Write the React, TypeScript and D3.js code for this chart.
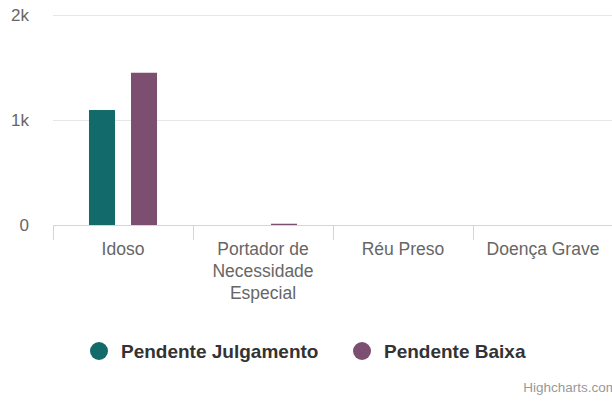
import React, { useEffect, useRef } from 'react';
import * as d3 from 'd3';

const categories = ['Idoso', 'Portador de Necessidade Especial', 'Réu Preso', 'Doença Grave'];
const categoryLines = [['Idoso'], ['Portador de', 'Necessidade', 'Especial'], ['Réu Preso'], ['Doença Grave']];
const seriesNames = ['Pendente Julgamento', 'Pendente Baixa'];
const seriesColors = ['#126b6a', '#7c4f71'];
const pendenteJulgamento = [1095, 0, 0, 0];
const pendenteBaixa = [1450, 12, 0, 0];
const yTicks = [0, 1000, 2000];
const yTickLabels = ['0', '1k', '2k'];

const App = () => {
    const svgRef = useRef<SVGSVGElement>(null);

    useEffect(() => {
        const width = 612;
        const height = 401;
        const left = 53, right = 613, top = 15, bottom = 225;
        const font = '"Liberation Sans", Arial, sans-serif';

        const svg = d3.select(svgRef.current)
            .attr('width', width)
            .attr('height', height);
        svg.selectAll('*').remove();

        const x0 = d3.scaleBand().domain(categories).range([left, right]).padding(0);
        const x1 = d3.scaleBand().domain(seriesNames).range([28, 112])
            .paddingInner(0.381).paddingOuter(0.19);
        const y = d3.scaleLinear().domain([0, 2000]).range([bottom, top]);

        // grid lines
        svg.append('g')
            .selectAll('line')
            .data(yTicks.filter(t => t > 0))
            .join('line')
            .attr('x1', left).attr('x2', right)
            .attr('y1', d => y(d) + 0.5).attr('y2', d => y(d) + 0.5)
            .attr('stroke', '#e6e6e6');

        // y labels
        svg.append('g')
            .selectAll('text')
            .data(yTicks)
            .join('text')
            .attr('x', 29)
            .attr('y', d => y(d) + 6)
            .attr('text-anchor', 'end')
            .style('font-family', font)
            .style('font-size', '17px')
            .style('fill', '#666')
            .text((d, i) => yTickLabels[i]);

        // bars
        const data = categories.map((c, i) => ({ c, vals: [pendenteJulgamento[i], pendenteBaixa[i]] }));
        const groups = svg.append('g')
            .selectAll('g')
            .data(data)
            .join('g')
            .attr('transform', d => `translate(${x0(d.c)},0)`);
        groups.selectAll('rect')
            .data(d => d.vals.map((v, j) => ({ v, s: seriesNames[j], color: seriesColors[j] })))
            .join('rect')
            .attr('x', d => x1(d.s)!)
            .attr('y', d => y(d.v))
            .attr('width', x1.bandwidth())
            .attr('height', d => bottom - y(d.v))
            .attr('fill', d => d.color);

        // x axis line and ticks
        svg.append('line')
            .attr('x1', left).attr('x2', right)
            .attr('y1', bottom + 0.5).attr('y2', bottom + 0.5)
            .attr('stroke', '#ccd6eb');
        svg.append('g')
            .selectAll('line')
            .data(categories)
            .join('line')
            .attr('x1', d => x0(d)! + 0.5).attr('x2', d => x0(d)! + 0.5)
            .attr('y1', bottom).attr('y2', bottom + 15)
            .attr('stroke', '#ccd6eb');
        svg.append('line')
            .attr('x1', right - 0.5).attr('x2', right - 0.5)
            .attr('y1', bottom).attr('y2', bottom + 15)
            .attr('stroke', '#ccd6eb');

        // x labels
        const labels = svg.append('g')
            .selectAll('text')
            .data(categories)
            .join('text')
            .attr('x', d => x0(d)! + x0.bandwidth() / 2)
            .attr('y', 255)
            .attr('text-anchor', 'middle')
            .style('font-family', font)
            .style('font-size', '17.5px')
            .style('fill', '#666');
        labels.selectAll('tspan')
            .data((d, i) => categoryLines[i])
            .join('tspan')
            .attr('x', function () { return (this.parentNode as SVGTextElement).getAttribute('x'); })
            .attr('dy', (d, i) => (i === 0 ? 0 : 22))
            .text(d => d);

        // legend
        const legendX = [99, 362];
        const legend = svg.append('g')
            .selectAll('g')
            .data(seriesNames)
            .join('g')
            .attr('transform', (d, i) => `translate(${legendX[i]},351)`);
        legend.append('circle')
            .attr('r', 9)
            .attr('fill', (d, i) => seriesColors[i]);
        legend.append('text')
            .attr('x', 22)
            .attr('y', 6.5)
            .style('font-family', font)
            .style('font-size', '19px')
            .style('font-weight', 'bold')
            .style('fill', '#333')
            .text(d => d);

        // credits
        svg.append('text')
            .attr('x', 617)
            .attr('y', 392)
            .attr('text-anchor', 'end')
            .style('font-family', font)
            .style('font-size', '13.5px')
            .style('fill', '#999')
            .text('Highcharts.com');
    }, []);

    return <svg ref={svgRef} style={{ position: 'absolute', left: 0, top: 0 }}></svg>;
};

export default App;
